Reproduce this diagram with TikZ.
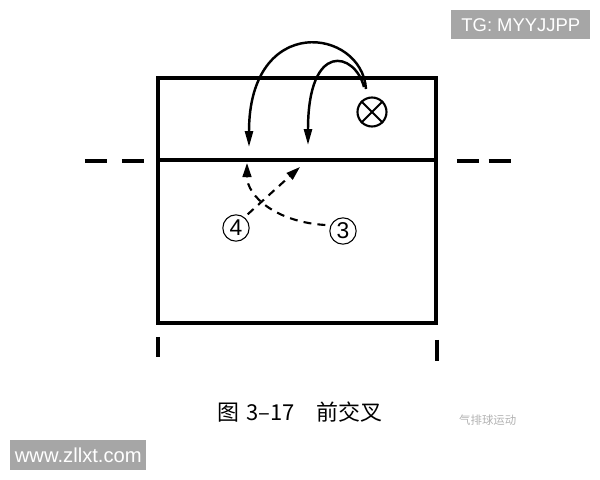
\documentclass[tikz,border=0pt]{standalone}
\usepackage{fontspec}
\setmainfont{Liberation Sans}
\newfontfamily\cjk{Noto Sans CJK SC}
\usetikzlibrary{arrows.meta}
\definecolor{wmgray}{HTML}{A6A6A6}
\tikzset{
  court/.style={line width=2.2pt},
  run/.style={line width=1.4pt, -{Triangle[length=9pt,width=4.5pt]}},
  pass/.style={line width=1.2pt, dash pattern=on 4.5pt off 3.5pt, -{Triangle[length=8pt,width=5pt]}},
  player/.style={draw, circle, line width=0.6pt, minimum size=15pt, inner sep=0pt, font=\fontsize{13}{13}\selectfont},
  wmbox/.style={fill=wmgray, text=white, inner sep=0pt, anchor=north west}
}
\begin{document}
\begin{tikzpicture}[x=0.02cm,y=-0.02cm]
\useasboundingbox (0,0) rectangle (600,480);
% court and net
\draw[court] (158,78) rectangle (436,323);
\draw[court] (158,160) -- (436,160);
\draw[line width=2.8pt, dash pattern=on 12.5pt off 8.5pt] (85,161) -- (146,161);
\draw[line width=2.8pt, dash pattern=on 12.5pt off 5.5pt] (457,161) -- (514,161);
\draw[line width=2.8pt] (158,337) -- (158,357);
\draw[line width=2.8pt] (437,340) -- (437,361);

% ball
\node[draw, circle, line width=1.2pt, minimum size=16.5pt, inner sep=0pt] (ball) at (372,112) {};
\draw[line width=1.2pt] (ball.north west) -- (ball.south east);
\draw[line width=1.2pt] (ball.north east) -- (ball.south west);

% players
\node[player] (p4) at (236,228) {4};
\node[player] (p3) at (343,231) {3};

\coordinate (t1) at (249,147);
\coordinate (t2) at (308,145);
\coordinate (t3) at (300,167);
\coordinate (t4) at (247,163);
\coordinate (s1) at (366,89);
\coordinate (s2) at (364,87);

% set trajectories
\draw[run] (s1) .. controls (362,28) and (249,12) .. (t1);
\draw[run] (s2) .. controls (355,52) and (308,40) .. (t2);

% crossing runs
\draw[pass] (p4.north east) ++(2,-4) -- (t3);
\draw[pass] (p3.west) ++(-4,-6) .. controls (276,222) and (247,196) .. (t4);

% caption
\node[font=\cjk\fontsize{12.5}{12.5}\selectfont, anchor=west] (cap) at (211,412) {图\,\,3–17\quad 前交叉};
\node[font=\cjk\fontsize{6.5}{6.5}\selectfont, text=gray!60, anchor=west] (logo) at (453,420) {气排球运动};

% watermarks
\node[wmbox, minimum width=2.78cm, minimum height=0.58cm, font=\fontsize{10.5}{10.5}\selectfont] (tg) at (451,10) {TG: MYYJJPP};
\node[wmbox, minimum width=2.72cm, minimum height=0.6cm, font=\fontsize{11.5}{11.5}\selectfont] (www) at (10,440) {www.zllxt.com};
\end{tikzpicture}
\end{document}
